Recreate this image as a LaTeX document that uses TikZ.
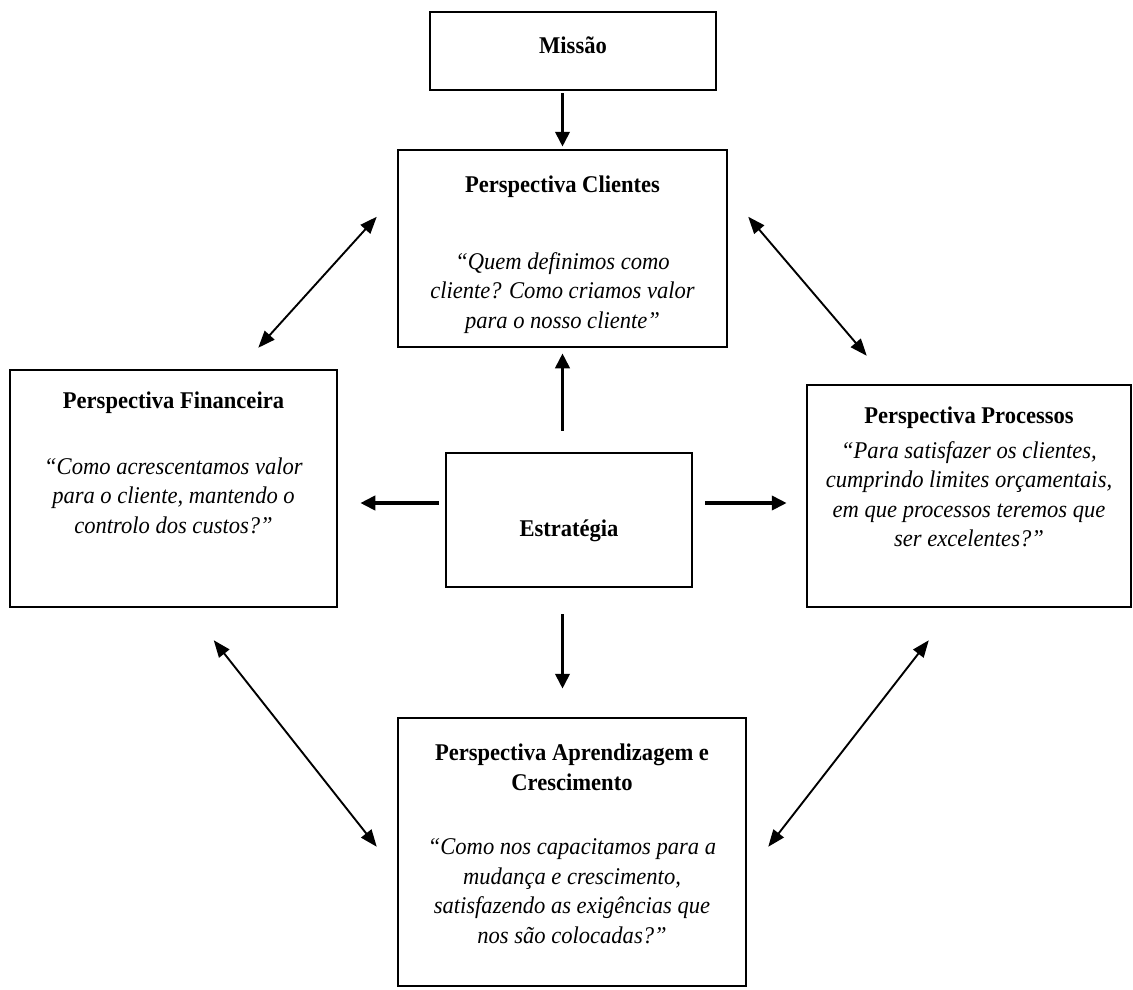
\documentclass[tikz,border=0pt]{standalone}
\usepackage{fontspec}
\setmainfont{Liberation Serif}[FakeStretch=0.94]
\usepackage{tikz}
\usetikzlibrary{arrows.meta,positioning,calc}

\begin{document}
\begin{tikzpicture}[x=1pt, y=-1pt,
  box/.style={draw, line width=2.5pt, inner sep=0pt},
  txt/.style={align=center, inner sep=0pt, font=\fontsize{24}{29.5}\selectfont},
  head/.style={font=\fontsize{24}{29.5}\selectfont\bfseries},
  bigarrow/.style={line width=3.8pt, -{Triangle[length=15pt,width=14pt]}},
  linkarrow/.style={line width=1.9pt, {Triangle[length=17pt,width=13pt]}-{Triangle[length=17pt,width=13pt]}}]
  \useasboundingbox (0,0) rectangle (1133,989);
  % Boxes
  \node[box, head, text height=10pt, text depth=6pt, minimum width=286pt, minimum height=78pt] (mis) at (573,51) {Missão};
  \node[box, minimum width=329pt, minimum height=197pt] (cli) at (562.5,248.5) {};
  \node[box, minimum width=327pt, minimum height=237pt] (fin) at (173.5,488.5) {};
  \node[box, head, text height=34pt, text depth=2pt, minimum width=246pt, minimum height=134pt] (est) at (569,520) {Estratégia};
  \node[box, minimum width=324pt, minimum height=222pt] (pro) at (969,496) {};
  \node[box, minimum width=348pt, minimum height=268pt] (apr) at (572,852) {};
  % Texts
  \node[txt, anchor=north] (cliT) at ($(cli.north)+(0,27)$) {\textbf{Perspectiva Clientes}\\[47pt]
    \textit{“Quem definimos como}\\ \textit{cliente? Como criamos valor}\\ \textit{para o nosso cliente”}};
  \node[txt, anchor=north] (finT) at ($(fin.north)+(0,23)$) {\textbf{Perspectiva Financeira}\\[36pt]
    \textit{“Como acrescentamos valor}\\ \textit{para o cliente, mantendo o}\\ \textit{controlo dos custos?”}};
  \node[txt, anchor=north] (proT) at ($(pro.north)+(0,23)$) {\textbf{Perspectiva Processos}\\[5pt]
    \textit{“Para satisfazer os clientes,}\\ \textit{cumprindo limites orçamentais,}\\
    \textit{em que processos teremos que}\\ \textit{ser excelentes?”}};
  \node[txt, anchor=north] (aprT) at ($(apr.north)+(0,27)$) {\textbf{Perspectiva Aprendizagem e}\\ \textbf{Crescimento}\\[35pt]
    \textit{“Como nos capacitamos para a}\\ \textit{mudança e crescimento,}\\
    \textit{satisfazendo as exigências que}\\ \textit{nos são colocadas?”}};
  % Strategy arrows
  \draw[bigarrow, shorten <=2pt, shorten >=2pt] (mis.south -| cli.north) -- (cli.north);
  \draw[bigarrow, shorten <=21pt, shorten >=5pt] (est.north -| cli.south) -- (cli.south);
  \draw[bigarrow, shorten <=26pt, shorten >=28pt] (est.south -| cli.south) -- (apr.north -| cli.south);
  \draw[bigarrow, shorten <=6pt, shorten >=22pt] ([yshift=17pt]est.west) -- ([yshift=17pt]est.west -| fin.east);
  \draw[bigarrow, shorten <=12pt, shorten >=19pt] ([yshift=17pt]est.east) -- ([yshift=17pt]est.east -| pro.west);
  % Links between perspectives
  \draw[linkarrow] ($(cli.north west)+(-20,68)$) -- ($(fin.north east)+(-80,-21)$);
  \draw[linkarrow] ($(cli.north east)+(20,68)$) -- ($(pro.north west)+(61,-28)$);
  \draw[linkarrow] ($(fin.south west)+(205,32)$) -- ($(apr.north west)+(-20,130)$);
  \draw[linkarrow] ($(pro.south west)+(123,32)$) -- ($(apr.north east)+(21,130)$);
\end{tikzpicture}
\end{document}
